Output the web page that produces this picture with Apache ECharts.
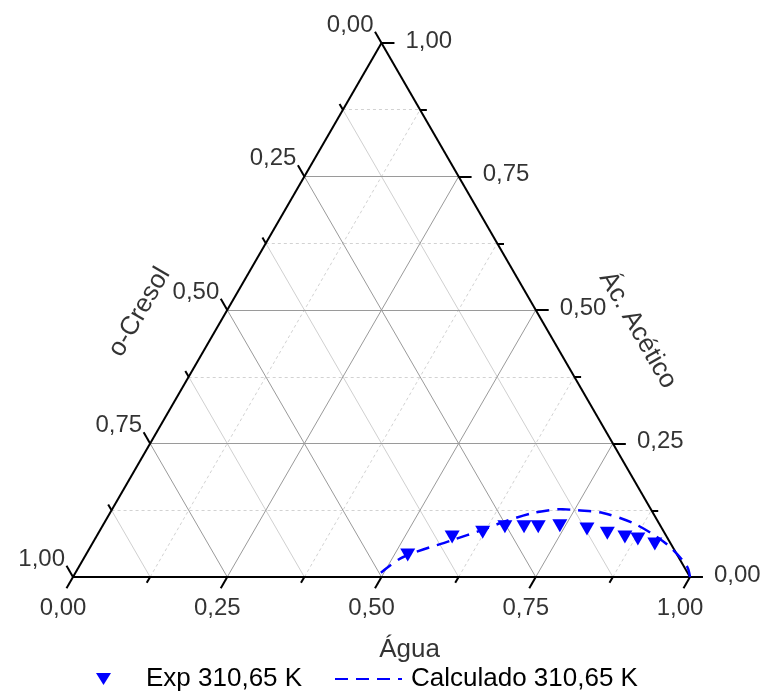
<!DOCTYPE html>
<html>
<head>
  <meta charset="UTF-8" />
  <title>Ternário</title>
  <style type="text/css">
    * {
      margin: 0;
      padding: 0;
    }
    #main {
      width: 768px;
      height: 695px;
      background-color: #fff;
    }
  </style>
</head>
<body>
  <div id="main"></div>
</body>
<script src="https://cdn.jsdelivr.net/npm/echarts@6/dist/echarts.min.js"></script>
<script type="text/javascript">
  // pontos experimentais (fração de Água e Ác. Acético, o-Cresol = resto)
  let expAgua = [0.522, 0.577, 0.622, 0.653, 0.684, 0.707, 0.741, 0.788, 0.825, 0.857, 0.880, 0.912]
  let expAcetico = [0.041, 0.075, 0.084, 0.094, 0.094, 0.094, 0.096, 0.090, 0.082, 0.075, 0.071, 0.062]
  // curva calculada
  let calcAgua = [0.495, 0.516, 0.580, 0.619, 0.646, 0.686, 0.730, 0.754, 0.799, 0.857, 0.909, 0.947, 0.986, 1.000]
  let calcAcetico = [0.008, 0.037, 0.069, 0.088, 0.103, 0.120, 0.127, 0.125, 0.120, 0.101, 0.075, 0.051, 0.019, 0.000]
  // eixos
  let ticks = [0, 0.25, 0.5, 0.75, 1]
  let minorTicks = [0.125, 0.375, 0.625, 0.875]
  let tickLabels = ['0,00', '0,25', '0,50', '0,75', '1,00']

  const H = Math.sqrt(3) / 2
  const font = 'Liberation Sans, Arial, sans-serif'
  const blue = '#0000ff'
  const triangle = 'path://M0,0L16,0L8,13Z'

  // ternário -> cartesiano (a = Água, c = Ác. Acético)
  function xy(a, c) {
    return [a + c / 2, c * H]
  }
  function seg(p, q) {
    return { coords: [p, q] }
  }
  function add(p, d, len) {
    return [p[0] + d[0] * len, p[1] + d[1] * len]
  }

  // linhas de grade
  let gridMajor = [], gridMinorSolid = [], gridMinorDash = []
  ticks.slice(1, 4).forEach(v => {
    gridMajor.push(seg(xy(0, v), xy(1 - v, v)))
    gridMajor.push(seg(xy(v, 0), xy(v, 1 - v)))
    gridMajor.push(seg(xy(1 - v, 0), xy(0, 1 - v)))
  })
  minorTicks.forEach(v => {
    gridMinorDash.push(seg(xy(0, v), xy(1 - v, v)))
    gridMinorDash.push(seg(xy(v, 0), xy(v, 1 - v)))
    gridMinorSolid.push(seg(xy(1 - v, 0), xy(0, 1 - v)))
  })

  // moldura e marcas
  let frame = [seg(xy(0, 0), xy(1, 0)), seg(xy(1, 0), xy(0, 1)), seg(xy(0, 1), xy(0, 0))]
  let dirA = [-0.5, -H], dirO = [-0.5, H], dirC = [1, 0]
  let tickSegs = []
  function addTicks(list, len) {
    list.forEach(v => {
      let pa = xy(v, 0), po = xy(0, 1 - v), pc = xy(1 - v, v)
      tickSegs.push(seg(pa, add(pa, dirA, len)))
      tickSegs.push(seg(po, add(po, dirO, len)))
      tickSegs.push(seg(pc, add(pc, dirC, len)))
    })
  }
  addTicks(ticks, 0.021)
  addTicks(minorTicks, 0.011)

  function labelSeries(points, label) {
    return {
      type: 'scatter',
      silent: true,
      clip: false,
      symbolSize: 0,
      itemStyle: { color: '#000' },
      data: points,
      label: Object.assign({
        show: true,
        position: 'inside',
        color: '#000',
        textBorderWidth: 0,
        fontFamily: font,
        fontSize: 24,
        formatter: p => p.name
      }, label)
    }
  }

  let legendText = { fontFamily: font, fontSize: 26, color: '#000' }

  let myChart = echarts.init(document.getElementById('main'))
  let option = {
    animation: false,
    backgroundColor: '#fff',
    grid: { left: 73, right: 78, top: 43, bottom: 118 },
    xAxis: { type: 'value', min: 0, max: 1, show: false },
    yAxis: { type: 'value', min: 0, max: H, show: false },
    legend: [
      {
        left: 91, top: 661, itemWidth: 15, itemHeight: 13,
        data: [{ name: 'Exp 310,65 K', icon: triangle, itemStyle: { opacity: 1 } }],
        textStyle: Object.assign({ padding: [0, 0, 0, 30] }, legendText)
      },
      {
        left: 329, top: 661, itemWidth: 67, itemHeight: 13,
        data: [{ name: 'Calculado 310,65 K', itemStyle: { opacity: 0 } }],
        textStyle: Object.assign({ padding: [0, 0, 0, 4] }, legendText)
      }
    ],
    series: [
      {
        type: 'lines', coordinateSystem: 'cartesian2d', silent: true, clip: false,
        lineStyle: { color: '#d2d2d2', width: 1, type: [3, 3], opacity: 1 },
        data: gridMinorDash
      },
      {
        type: 'lines', coordinateSystem: 'cartesian2d', silent: true, clip: false,
        lineStyle: { color: '#d0d0d0', width: 1, opacity: 1 },
        data: gridMinorSolid
      },
      {
        type: 'lines', coordinateSystem: 'cartesian2d', silent: true, clip: false,
        lineStyle: { color: '#9a9a9a', width: 1, opacity: 1 },
        data: gridMajor
      },
      {
        type: 'lines', coordinateSystem: 'cartesian2d', silent: true, clip: false,
        lineStyle: { color: '#000', width: 2, opacity: 1 },
        data: frame.concat(tickSegs)
      },
      {
        name: 'Calculado 310,65 K',
        type: 'line',
        smooth: 0.3,
        showSymbol: false,
        symbol: 'none',
        clip: false,
        lineStyle: { color: blue, width: 2.5, type: [13, 8] },
        itemStyle: { color: blue },
        data: calcAgua.map((a, i) => xy(a, calcAcetico[i]))
      },
      {
        name: 'Exp 310,65 K',
        type: 'scatter',
        symbol: triangle,
        symbolSize: [15, 13],
        clip: false,
        itemStyle: { color: blue, opacity: 1 },
        data: expAgua.map((a, i) => xy(a, expAcetico[i]))
      },
      // rótulos das marcas
      labelSeries(ticks.map((v, i) => ({ value: xy(v, 0), name: tickLabels[i] })),
        { align: 'center', verticalAlign: 'middle', offset: [-10, 31] }),
      labelSeries(ticks.map((v, i) => ({ value: xy(0, 1 - v), name: tickLabels[i] })),
        { align: 'right', verticalAlign: 'middle', offset: [-8, -18] }),
      labelSeries(ticks.map((v, i) => ({ value: xy(1 - v, v), name: tickLabels[i] })),
        { align: 'left', verticalAlign: 'middle', offset: [24, -2] }),
      // títulos dos eixos
      labelSeries([{ value: xy(0.614, -0.137), name: 'Água' }],
        { align: 'center', verticalAlign: 'middle', fontSize: 26 }),
      labelSeries([{ value: xy(-0.14, 0.496), name: 'o-Cresol' }],
        { align: 'center', verticalAlign: 'middle', fontSize: 26, rotate: 60 }),
      labelSeries([{ value: xy(0.684, 0.4625), name: 'Ác. Acético' }],
        { align: 'center', verticalAlign: 'middle', fontSize: 26, rotate: -60 })
    ]
  }
  myChart.setOption(option)
</script>
</html>
